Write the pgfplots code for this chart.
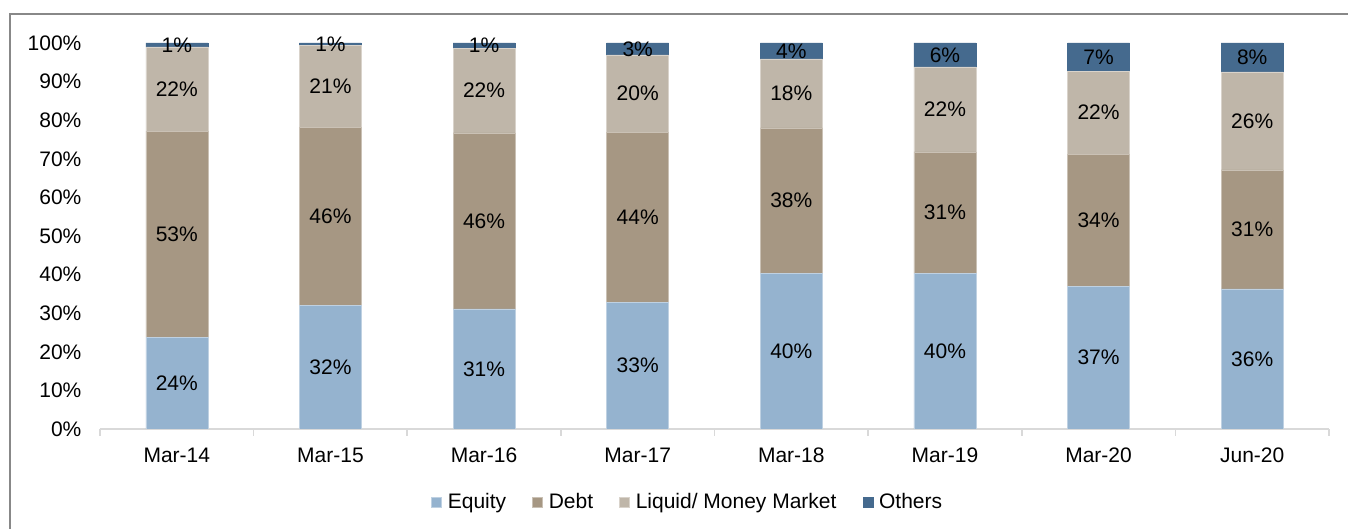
\documentclass[border=0pt]{standalone}
\usepackage{pgfplots}
\pgfplotsset{compat=1.18}
\usepackage{pgfplotstable}
\usepackage{fontspec}
\setmainfont{Liberation Sans}
\definecolor{ceq}{HTML}{95B3CF}
\definecolor{cdebt}{HTML}{A69783}
\definecolor{cliq}{HTML}{BFB6A9}
\definecolor{coth}{HTML}{456A8E}
\definecolor{caxis}{HTML}{D9D9D9}
\definecolor{cframe}{HTML}{888888}

\pgfplotstableread{
x eq debt liq oth leq ldebt lliq loth
0 23.8 53.4 21.8 1.0 24 53 22 1
1 32.1 46.1 21.2 0.6 32 46 21 1
2 31.1 45.6 22.0 1.3 31 46 22 1
3 32.9 44.0 20.0 3.1 33 44 20 3
4 40.4 37.6 17.9 4.1 40 38 18 4
5 40.4 31.4 22.0 6.2 40 31 22 6
6 37.0 34.2 21.5 7.3 37 34 22 7
7 36.3 30.8 25.4 7.5 36 31 26 8
}\datatable

\pgfplotsset{
  common/.style={
    at={(50pt,50pt)}, anchor=south west,
    width=614.5pt, height=193pt, scale only axis,
    xmin=-0.5, xmax=7.5, ymin=0, ymax=100,
    font=\fontsize{10.5}{12}\selectfont,
  }
}

\begin{document}
\begin{tikzpicture}
\path[use as bounding box] (0,0) rectangle (674pt,264.5pt);
\draw[cframe, line width=1pt] (5pt,-1pt) -- (5pt,257.5pt) -- (675pt,257.5pt);
\begin{axis}[common,
  ybar stacked, bar width=31pt,
  axis x line*=bottom, axis y line*=left,
  x axis line style={draw=caxis, line width=0.8pt},
  y axis line style={draw=none},
  xtick={0,...,7},
  xticklabels={Mar-14,Mar-15,Mar-16,Mar-17,Mar-18,Mar-19,Mar-20,Jun-20},
  major x tick style={draw=none},
  minor xtick={-0.5,0.5,...,7.5},
  minor x tick style={draw=caxis, line width=0.8pt},
  minor tick length=3.5pt,
  tick align=outside,
  xticklabel style={yshift=-1.5pt},
  ytick={0,10,...,100},
  yticklabel={\pgfmathprintnumber{\tick}\%},
  yticklabel style={xshift=-1.5pt},
  ytick style={draw=none},
  /pgf/number format/assume math mode=true,
  legend style={at={(0.479,-0.19)}, anchor=center, draw=none, fill=none,
    legend columns=-1, font=\fontsize{10.5}{12}\selectfont,
    /tikz/every odd column/.append style={column sep=1pt},
    /tikz/every even column/.append style={column sep=11pt}},
  legend image code/.code={\fill[#1] (0pt,-2.5pt) rectangle (5pt,2.5pt);},
]
\addplot[fill=ceq, draw=ceq!60!white, line width=0.3pt] table[x=x, y=eq] {\datatable};
\addplot[fill=cdebt, draw=cdebt!60!white, line width=0.3pt] table[x=x, y=debt] {\datatable};
\addplot[fill=cliq, draw=cliq!60!white, line width=0.3pt] table[x=x, y=liq] {\datatable};
\addplot[fill=coth, draw=coth, line width=0.3pt] table[x=x, y=oth] {\datatable};
\legend{Equity, Debt, Liquid/ Money Market, Others}
\end{axis}
\begin{axis}[common, axis lines=none, ticks=none,
  nodes near coords={\pgfplotspointmeta\%},
  point meta=explicit symbolic,
  every node near coord/.append style={anchor=center, font=\fontsize{10.5}{12}\selectfont, inner sep=0pt},
]
\addplot[only marks, mark=none] table[x=x, y expr=\thisrow{eq}/2, meta=leq] {\datatable};
\addplot[only marks, mark=none] table[x=x, y expr=\thisrow{eq}+\thisrow{debt}/2, meta=ldebt] {\datatable};
\addplot[only marks, mark=none] table[x=x, y expr=\thisrow{eq}+\thisrow{debt}+\thisrow{liq}/2, meta=lliq] {\datatable};
\addplot[only marks, mark=none] table[x=x, y expr=\thisrow{eq}+\thisrow{debt}+\thisrow{liq}+\thisrow{oth}/2, meta=loth] {\datatable};
\end{axis}
\end{tikzpicture}
\end{document}
